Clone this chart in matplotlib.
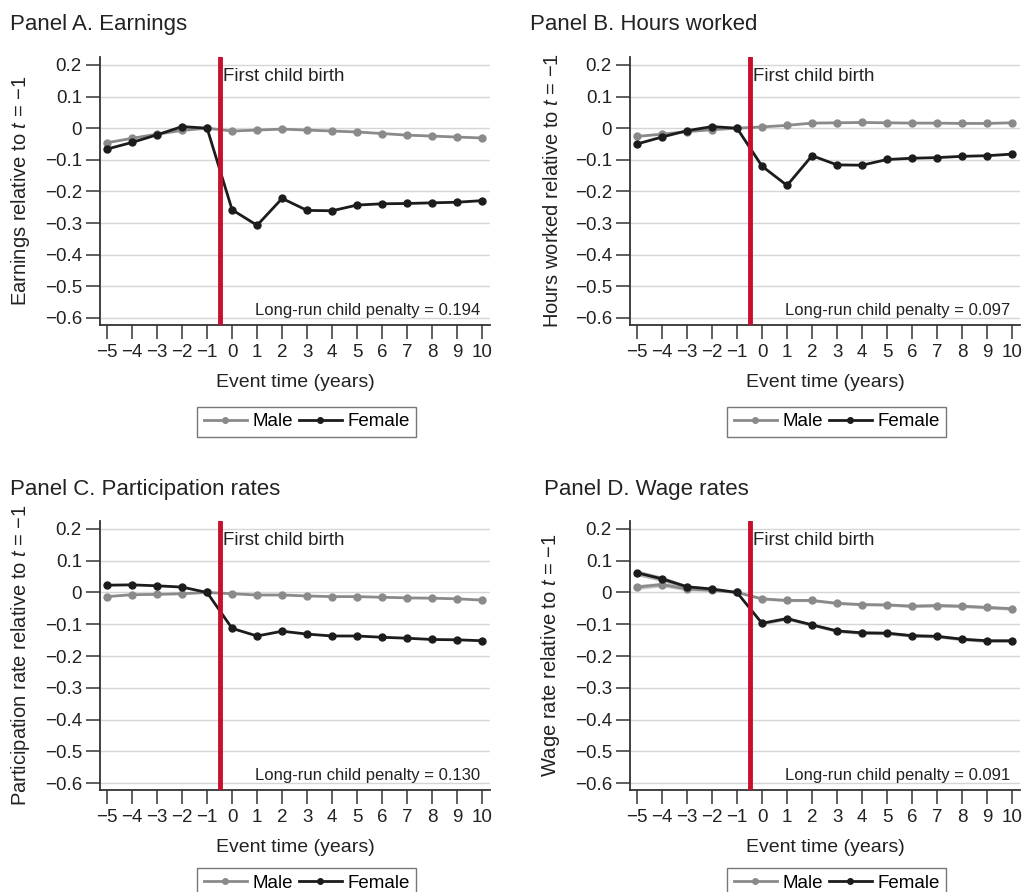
import numpy as np
import matplotlib
matplotlib.use("Agg")
import matplotlib.pyplot as plt

plt.rcParams["font.family"] = ["Liberation Sans", "DejaVu Sans"]
plt.rcParams["mathtext.fontset"] = "custom"
plt.rcParams["mathtext.it"] = "Liberation Sans:italic"
plt.rcParams["mathtext.rm"] = "Liberation Sans"

event_time = list(range(-5, 11))

# Event-study estimates, relative to t = -1
earn_male = [-0.046, -0.032, -0.019, -0.007, 0.0, -0.009, -0.006, -0.003,
             -0.006, -0.009, -0.012, -0.017, -0.022, -0.025, -0.028, -0.031]
earn_female = [-0.066, -0.045, -0.021, 0.005, 0.0, -0.258, -0.307, -0.222,
               -0.260, -0.261, -0.243, -0.239, -0.238, -0.236, -0.234, -0.229]

hours_male = [-0.026, -0.019, -0.011, -0.005, 0.0, 0.004, 0.009, 0.016,
              0.017, 0.018, 0.017, 0.016, 0.016, 0.015, 0.015, 0.017]
hours_female = [-0.050, -0.028, -0.008, 0.005, 0.0, -0.120, -0.181, -0.087,
                -0.116, -0.117, -0.099, -0.095, -0.093, -0.089, -0.087, -0.082]

part_male = [-0.013, -0.007, -0.006, -0.004, 0.0, -0.004, -0.008, -0.008,
             -0.011, -0.013, -0.013, -0.015, -0.017, -0.018, -0.020, -0.024]
part_female = [0.023, 0.024, 0.021, 0.017, 0.0, -0.113, -0.137, -0.122,
               -0.131, -0.137, -0.137, -0.141, -0.144, -0.148, -0.149, -0.152]

wage_male = [0.017, 0.025, 0.011, 0.007, 0.0, -0.020, -0.025, -0.025,
             -0.034, -0.038, -0.039, -0.043, -0.041, -0.043, -0.047, -0.051]
wage_female = [0.062, 0.043, 0.018, 0.011, 0.0, -0.097, -0.082, -0.102,
               -0.121, -0.127, -0.128, -0.136, -0.138, -0.147, -0.152, -0.152]
# confidence band half-widths for the wage panel
wage_male_ci = [0.008, 0.007, 0.006, 0.004, 0.0, 0.004, 0.004, 0.004,
                0.004, 0.004, 0.004, 0.005, 0.005, 0.005, 0.005, 0.005]
wage_female_ci = [0.009, 0.008, 0.006, 0.004, 0.0, 0.005, 0.005, 0.005,
                  0.005, 0.005, 0.005, 0.005, 0.005, 0.005, 0.005, 0.005]

titles = ["Panel A. Earnings", "Panel B. Hours worked",
          "Panel C. Participation rates", "Panel D. Wage rates"]
ylabels = ["Earnings", "Hours worked", "Participation rate", "Wage rate"]
penalties = [0.194, 0.097, 0.130, 0.091]
males = [earn_male, hours_male, part_male, wage_male]
females = [earn_female, hours_female, part_female, wage_female]

yticks = [0.2, 0.1, 0, -0.1, -0.2, -0.3, -0.4, -0.5, -0.6]
ytick_labels = ["0.2", "0.1", "0", "\u22120.1", "\u22120.2", "\u22120.3",
                "\u22120.4", "\u22120.5", "\u22120.6"]
xtick_labels = [str(t).replace("-", "\u2212") for t in event_time]

MALE_C = "#8a8a8a"
FEMALE_C = "#1c1c1c"
RED = "#c8102e"
TXT = "#222222"

fig = plt.figure(figsize=(10.24, 8.92), dpi=100)

# axes boxes in figure fractions: left, bottom, width, height
boxes = [(0.0977, 0.6357, 0.381, 0.3004), (0.6152, 0.6357, 0.381, 0.3004),
         (0.0977, 0.1143, 0.381, 0.3016), (0.6152, 0.1143, 0.381, 0.3016)]
title_pos = [(0.010, 0.972), (0.518, 0.972), (0.010, 0.451), (0.531, 0.451)]
legend_y = [-0.27, -0.27, -0.255, -0.255]

for i in range(4):
    ax = fig.add_axes(boxes[i])
    ax.set_xlim(-5.28, 10.32)
    ax.set_ylim(-0.622, 0.225)

    for y in yticks:
        ax.axhline(y, color="#d6d6d6", lw=1.0, zorder=0)

    if i == 3:
        ax.fill_between(event_time, np.array(wage_male) - wage_male_ci,
                        np.array(wage_male) + wage_male_ci,
                        color="#c8c8c8", lw=0, zorder=1)
        ax.fill_between(event_time, np.array(wage_female) - wage_female_ci,
                        np.array(wage_female) + wage_female_ci,
                        color="#b0b0b0", lw=0, zorder=1)

    ax.plot(event_time, males[i], color=MALE_C, lw=2.0, marker="o",
            ms=5, label="Male", zorder=3)
    ax.plot(event_time, females[i], color=FEMALE_C, lw=2.0, marker="o",
            ms=5, label="Female", zorder=4)

    ax.axvline(-0.5, color=RED, lw=3.5, zorder=5)
    ax.text(-0.37, 0.163, "First child birth", fontsize=13.5, color=TXT,
            va="center", ha="left")
    ax.text(0.975, 0.025, "Long-run child penalty = %.3f" % penalties[i],
            transform=ax.transAxes, fontsize=12, color=TXT,
            ha="right", va="bottom")

    for side in ["top", "right"]:
        ax.spines[side].set_visible(False)
    for side in ["left", "bottom"]:
        ax.spines[side].set_color("#333333")
        ax.spines[side].set_linewidth(1.3)

    ax.set_yticks(yticks)
    ax.set_yticklabels(ytick_labels)
    ax.set_xticks(event_time)
    ax.set_xticklabels(xtick_labels)
    ax.tick_params(axis="both", direction="out", length=10, width=1.1,
                   color="#333333", labelsize=13.5, labelcolor=TXT)
    ax.tick_params(axis="y", pad=3)
    ax.tick_params(axis="x", pad=4)

    ax.set_xlabel("Event time (years)", fontsize=14, color=TXT,
                  labelpad=9)
    ax.set_ylabel(ylabels[i] + " relative to $t$ = \u22121", fontsize=14.5,
                  color=TXT, labelpad=9)

    leg = ax.legend(loc="upper center", bbox_to_anchor=(0.53, legend_y[i]),
                    ncol=2, frameon=True, fancybox=False, fontsize=13.5,
                    handlelength=2.3, handletextpad=0.3, columnspacing=0.3,
                    borderpad=0.35, markerscale=0.8)
    leg.get_frame().set_edgecolor("#555555")
    leg.get_frame().set_linewidth(1.0)

    fig.text(title_pos[i][0], title_pos[i][1], titles[i], fontsize=16,
             color=TXT, ha="left", va="center")

fig.savefig("out.png", dpi=100)
